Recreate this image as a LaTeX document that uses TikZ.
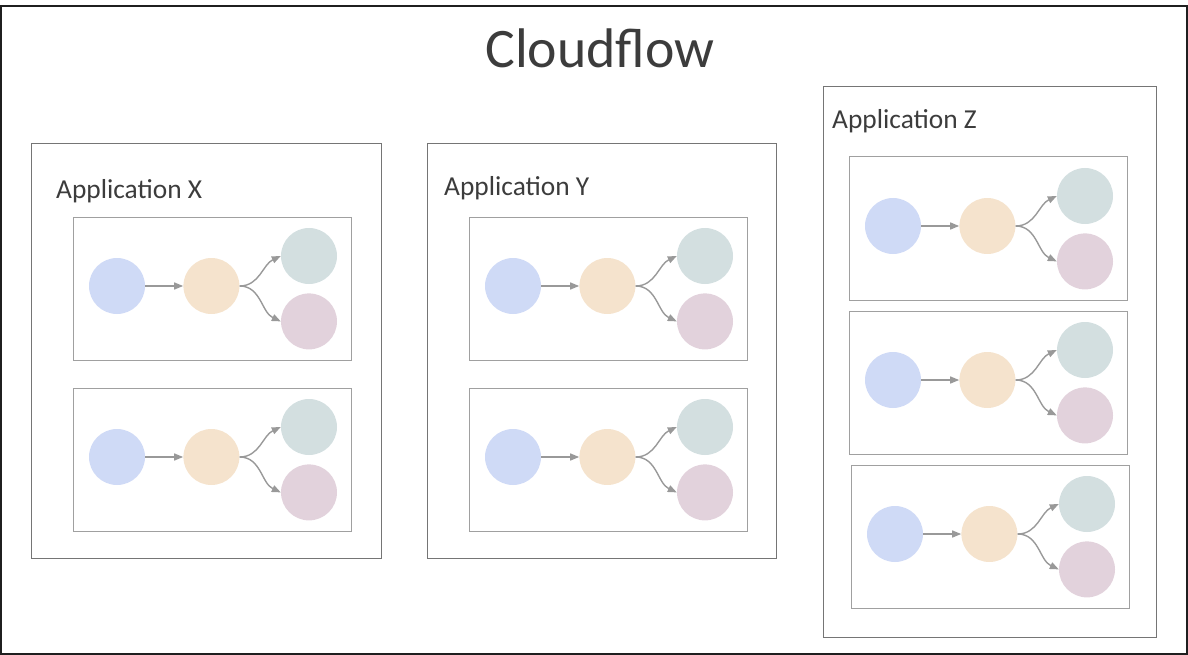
\documentclass[tikz,border=0pt]{standalone}
\usepackage{fontspec}
\setmainfont{Carlito}
\usetikzlibrary{arrows.meta,positioning}
\definecolor{bluec}{HTML}{CFDAF6}
\definecolor{orangec}{HTML}{F5E3CD}
\definecolor{greenc}{HTML}{D3DFE0}
\definecolor{purplec}{HTML}{E2D2DC}
\definecolor{linegray}{HTML}{999999}
\definecolor{boxgray}{HTML}{A0A0A0}
\definecolor{appgray}{HTML}{757575}
\definecolor{textgray}{HTML}{3C3C3C}
\tikzset{
  dot/.style={circle,minimum size=56bp,inner sep=0pt,draw=none},
  flowarrow/.style={draw=linegray,line width=1.4bp,-{Triangle[length=9bp,width=7bp]}},
  appbox/.style={draw=appgray,line width=1bp},
  flowbox/.style={draw=boxgray,line width=1bp},
  applabel/.style={anchor=base west,inner sep=0pt,text=textgray,font=\fontsize{27.5}{30}\selectfont},
}
% one small flow: box at (#2,#3), nodes named #1b, #1o, #1g, #1p
\def\flow(#1)(#2,#3){%
  \draw[flowbox] (#2,#3) rectangle ++(278,143);
  \node[dot,fill=bluec] (#1b) at (#2+44,#3+69) {};
  \node[dot,fill=orangec,right=38bp of #1b] (#1o) {};
  \node[dot,fill=greenc] (#1g) at (#2+236,#3+39) {};
  \node[dot,fill=purplec,below=9bp of #1g] (#1p) {};
  \draw[flowarrow] (#1b) -- (#1o);
  \draw[flowarrow] (#1o.east) to[out=0,in=205] (#1g.west);
  \draw[flowarrow] (#1o.east) to[out=0,in=155] (#1p.west);
}

\begin{document}
\begin{tikzpicture}[x=1bp,y=-1bp]
  \useasboundingbox (0,0) rectangle (1188,655);

  %%%%% FRAME %%%%%
  \draw[draw=black!88,line width=1.5bp] (1,6) rectangle (1187,654);
  \node[text=textgray,font=\fontsize{56}{60}\selectfont] (title) at (600,48) {Cloudflow};

  %%%%% APPLICATION X %%%%%
  \draw[appbox] (31,144) rectangle (381,558);
  \node[applabel] (labx) at (56,199) {Application X};
  \flow(xa)(73,217)
  \flow(xb)(73,388)

  %%%%% APPLICATION Y %%%%%
  \draw[appbox] (427,144) rectangle (776,558);
  \node[applabel] (laby) at (444,196) {Application Y};
  \flow(ya)(469,217)
  \flow(yb)(469,388)

  %%%%% APPLICATION Z %%%%%
  \draw[appbox] (823,87) rectangle (1156,637);
  \node[applabel] (labz) at (832,129) {Application Z};
  \flow(za)(849,157)
  \flow(zb)(849,311)
  \flow(zc)(851,465)
\end{tikzpicture}
\end{document}
